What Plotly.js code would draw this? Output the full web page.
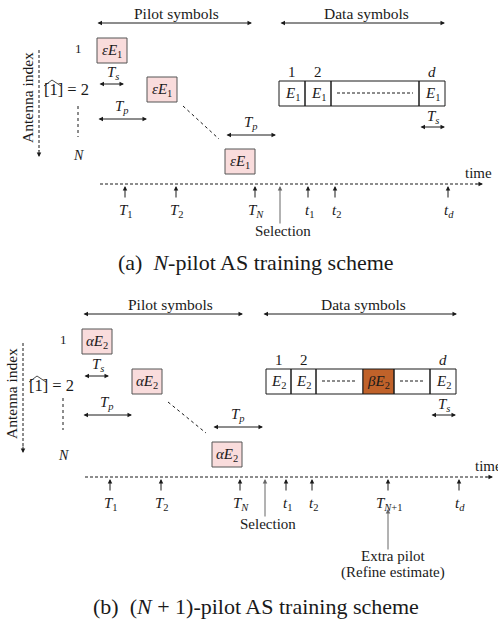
<!DOCTYPE html>
<html>
<head>
<meta charset="utf-8">
<script src="https://cdn.plot.ly/plotly-3.0.1.min.js"></script>
<style>html,body{margin:0;padding:0;background:#fff}#chart{width:498px;height:620px}</style>
</head>
<body>
<div id="chart"></div>
<script>
// ---- Diagram data (time positions along each panel's time line, labels) ----
const captionA = '(a)  <i>N</i>-pilot AS training scheme';
const captionB = '(b)  (<i>N</i> + 1)-pilot AS training scheme';
const pilotLabelA = '<i>εE</i><sub>1</sub>';
const pilotLabelB = '<i>αE</i><sub>2</sub>';
const pilotTimesA = [97, 147, 225];
const pilotTimesB = [82, 132, 212];
const dataEdgesA = [279, 305, 331, 419, 445];
const dataEdgesB = [266, 291, 316, 363, 394, 430, 456];
const dataCellTextA = ['<i>E</i><sub>1</sub>', '<i>E</i><sub>1</sub>', '', '<i>E</i><sub>1</sub>'];
const dataCellTextB = ['<i>E</i><sub>2</sub>', '<i>E</i><sub>2</sub>', '', '<i>βE</i><sub>2</sub>', '', '<i>E</i><sub>2</sub>'];
const dataCellKindB = ['E', 'E', 'dots', 'extra', 'dots', 'E'];
const dataCellKindA = ['E', 'E', 'dots', 'E'];
const dataIndexLabels = ['1', '2', '<i>d</i>'];
const eventLabelsA = ['<i>T</i><sub>1</sub>', '<i>T</i><sub>2</sub>', '<i>T</i><sub><i>N</i></sub>', '<i>t</i><sub>1</sub>', '<i>t</i><sub>2</sub>', '<i>t</i><sub><i>d</i></sub>'];
const eventTimesA = [125, 176, 255, 308, 335, 448];
const eventLabelsB = ['<i>T</i><sub>1</sub>', '<i>T</i><sub>2</sub>', '<i>T</i><sub><i>N</i></sub>', '<i>t</i><sub>1</sub>', '<i>t</i><sub>2</sub>', '<i>T</i><sub><i>N</i>+1</sub>', '<i>t</i><sub><i>d</i></sub>'];
const eventTimesB = [110, 161, 240, 286, 312, 388, 459];
const selectionTimeA = 280;
const selectionTimeB = 265;
const extraPilotTime = 388;

// ---- styles ----
const SERIF = "'Liberation Serif', 'DejaVu Serif', serif";
const INK = '#1a1a1a';
const PINK = '#f9dcdc';
const BOXLINE = '#555555';
const BROWN = '#c0622a';
const FINE = '3px,2px';

const shapes = [];
const ann = [];

function txt(x, y, text, size, extra) {
  ann.push(Object.assign({x: x, y: y, xref: 'x', yref: 'y', text: text, showarrow: false,
    font: {family: SERIF, size: size || 15, color: INK}, xanchor: 'center', yanchor: 'middle'}, extra || {}));
}
function arrow(x0, y0, x1, y1, both, color, width) {
  ann.push({x: x1, y: y1, ax: x0, ay: y0, xref: 'x', yref: 'y', axref: 'x', ayref: 'y', text: '',
    showarrow: true, arrowhead: 2, startarrowhead: 2, arrowsize: 0.9, startarrowsize: 0.9,
    arrowwidth: width || 1, arrowcolor: color || INK, arrowside: both ? 'end+start' : 'end', standoff: 0, startstandoff: 0});
}
function line(x0, y0, x1, y1, dash, color, width) {
  shapes.push({type: 'line', xref: 'x', yref: 'y', x0: x0, y0: y0, x1: x1, y1: y1,
    line: {color: color || INK, width: width || 1, dash: dash || 'solid'}});
}
function rect(x0, y0, x1, y1, fill, lc) {
  shapes.push({type: 'rect', xref: 'x', yref: 'y', x0: x0, y0: y0, x1: x1, y1: y1,
    fillcolor: fill, line: {color: lc || INK, width: 1}, layer: 'below'});
}

function panel(p) {
  const o = p.oy;
  // header arrows
  arrow(p.pilotArrow[0], o + 23, p.pilotArrow[1], o + 23, true);
  txt((p.pilotArrow[0] + p.pilotArrow[1]) / 2 + p.pilotTextShift, o + 13, 'Pilot symbols', 15.5);
  arrow(p.dataArrow[0], o + 23, p.dataArrow[1], o + 23, true);
  txt((p.dataArrow[0] + p.dataArrow[1]) / 2 + 4, o + 13, 'Data symbols', 15.5);
  // antenna index axis
  txt(p.antX - 12, o + p.antTextY, 'Antenna index', 15.5, {textangle: -90});
  line(p.antX, o + p.antLine[0], p.antX, o + p.antLine[1] - 6, FINE);
  arrow(p.antX, o + p.antLine[1] - 8, p.antX, o + p.antLine[1], false);
  // antenna labels
  txt(p.labX, o + 48, '1', 13);
  const ly = o + p.lab2Y;
  txt(p.labX - 36, ly, '[1] = 2', 16.5, {xanchor: 'left'});
  shapes.push({type: 'path', xref: 'x', yref: 'y', path: `M${p.labX-34},${ly-3} L${p.labX-26},${ly-9} L${p.labX-17},${ly-3}`, line: {color: INK, width: 0.8}});
  line(p.labX, o + p.vdots[0], p.labX, o + p.vdots[1], 'dot', INK, 1);
  txt(p.labX, o + p.nY, '<i>N</i>', 14);
  // pilot boxes
  p.boxTops.forEach((bt, i) => {
    const t = p.pilots[i];
    rect(t, o + bt, t + 30, o + bt + 25, PINK, BOXLINE);
    txt(t + 15, o + bt + 12.5, p.pilotLabel, 15);
  });
  // Ts / Tp near pilots
  const t0 = p.pilots[0], t1 = p.pilots[1], t2 = p.pilots[2];
  txt(t0 + 16, o + p.tsY, '<i>T</i><sub><i>s</i></sub>', 15);
  arrow(t0 + 1, o + p.tsY + 11, t0 + 27, o + p.tsY + 11, true);
  txt((t0 + t1) / 2, o + p.tpY, '<i>T</i><sub><i>p</i></sub>', 15);
  arrow(t0, o + p.tpY + 12, t1, o + p.tpY + 12, true);
  line(t1 + 36, o + p.diag[0], t2 - 6, o + p.diag[1], 'dot', INK, 1);
  txt(t2 + 26, o + p.tp2Y, '<i>T</i><sub><i>p</i></sub>', 15);
  arrow(t2, o + p.tp2Y + 12, t2 + 51, o + p.tp2Y + 12, true);
  // data cells
  const e = p.edges, dy = p.dataY;
  for (let i = 0; i < e.length - 1; i++) {
    const kind = p.kinds[i];
    rect(e[i], o + dy, e[i + 1], o + dy + 25, kind === 'extra' ? BROWN : 'rgba(255,255,255,0)', INK);
    if (kind === 'dots') line(e[i] + 6, o + dy + 12, e[i + 1] - 6, o + dy + 12, FINE, INK, 1);
    else txt((e[i] + e[i + 1]) / 2, o + dy + 12.5, p.cellText[i], 15);
  }
  txt((e[0] + e[1]) / 2, o + dy - 9, dataIndexLabels[0], 15);
  txt((e[1] + e[2]) / 2, o + dy - 9, dataIndexLabels[1], 15);
  const nl = e.length - 1;
  txt((e[nl - 1] + e[nl]) / 2, o + dy - 9, dataIndexLabels[2], 15);
  txt((e[nl - 1] + e[nl]) / 2 + 1, o + dy + 36, '<i>T</i><sub><i>s</i></sub>', 15);
  arrow(e[nl - 1], o + dy + 46, e[nl], o + dy + 46, true);
  // time axis
  const ty = o + p.timeY;
  line(p.timeAxis[0], ty, p.timeAxis[1] - 6, ty, FINE);
  arrow(p.timeAxis[1] - 8, ty, p.timeAxis[1], ty, false);
  txt(p.timeAxis[1] - 20, ty - 11, 'time', 15, {xanchor: 'left'});
  p.events.forEach((t, i) => {
    arrow(t, ty + 15, t, ty + 2, false);
    txt(t + 1, ty + 27, p.eventLabels[i], 15);
  });
  arrow(p.selection, ty + 41, p.selection, ty + 2, false, '#666666', 1);
  txt(p.selection + 3, ty + 47, 'Selection', 15);
  txt(256, p.captionY, p.caption, 22);
}

panel({oy: 0, pilotArrow: [96, 252], pilotTextShift: 2, dataArrow: [279, 445], antX: 39, antTextY: 98, antLine: [50, 157],
  labX: 78, lab2Y: 89, vdots: [106, 137], nY: 155, boxTops: [38, 77, 149], tsY: 73, tpY: 107, tp2Y: 123, diag: [106, 139],
  pilots: pilotTimesA, pilotLabel: pilotLabelA, edges: dataEdgesA, kinds: dataCellKindA, cellText: dataCellTextA, dataY: 81,
  timeAxis: [100, 483], timeY: 184, events: eventTimesA, eventLabels: eventLabelsA, selection: selectionTimeA,
  caption: captionA, captionY: 262});

panel({oy: 291, pilotArrow: [82, 243], pilotTextShift: 8, dataArrow: [262, 457], antX: 23, antTextY: 103, antLine: [52, 162],
  labX: 63, lab2Y: 94, vdots: [107, 139], nY: 164, boxTops: [38, 78, 151], tsY: 74, tpY: 112, tp2Y: 124, diag: [111, 142],
  pilots: pilotTimesB, pilotLabel: pilotLabelB, edges: dataEdgesB, kinds: dataCellKindB, cellText: dataCellTextB, dataY: 78,
  timeAxis: [85, 493], timeY: 186, events: eventTimesB, eventLabels: eventLabelsB, selection: selectionTimeB,
  caption: captionB, captionY: 606});

// extra pilot annotation in panel (b)
arrow(extraPilotTime, 551, extraPilotTime, 509, false, '#666666', 1);
txt(extraPilotTime + 5, 556, 'Extra pilot', 15);
txt(extraPilotTime + 5, 572, '(Refine estimate)', 15);

const layout = {
  width: 498, height: 620,
  margin: {l: 0, r: 0, t: 0, b: 0},
  paper_bgcolor: '#ffffff', plot_bgcolor: '#ffffff',
  xaxis: {range: [0, 498], visible: false, fixedrange: true},
  yaxis: {range: [620, 0], visible: false, fixedrange: true},
  showlegend: false,
  shapes: shapes,
  annotations: ann
};
Plotly.newPlot('chart', [{x: [0], y: [0], mode: 'markers', marker: {opacity: 0}, hoverinfo: 'skip'}], layout, {staticPlot: true, displayModeBar: false});
</script>
</body>
</html>
